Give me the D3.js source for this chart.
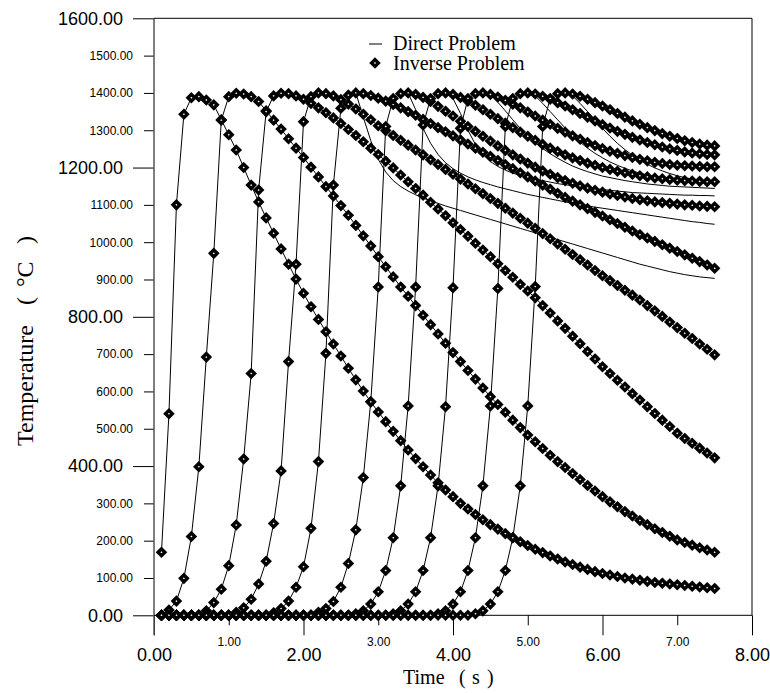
<!DOCTYPE html>
<html>
<head>
<meta charset="utf-8">
<script src="https://cdn.jsdelivr.net/npm/d3@7"></script>
<style>
  body { margin: 0; background: #fff; }
  svg { display: block; }
</style>
</head>
<body>
<svg id="chart" width="770" height="693"></svg>
<script>
// time grid of the measurements (s)
const times = [0.1,0.2,0.3,0.4,0.5,0.6,0.7,0.8,0.9,1.0,1.1,1.2,1.3,1.4,1.5,1.6,1.7,1.8,1.9,2.0,
  2.1,2.2,2.3,2.4,2.5,2.6,2.7,2.8,2.9,3.0,3.1,3.2,3.3,3.4,3.5,3.6,3.7,3.8,3.9,4.0,
  4.1,4.2,4.3,4.4,4.5,4.6,4.7,4.8,4.9,5.0,5.1,5.2,5.3,5.4,5.5,5.6,5.7,5.8,5.9,6.0,
  6.1,6.2,6.3,6.4,6.5,6.6,6.7,6.8,6.9,7.0,7.1,7.2,7.3,7.4,7.5];

// inverse problem, one array per measuring point (°C)
const inv1 = [169,540,1100,1343,1387,1390,1381,1368,1328,1288,1247,1200,1153,1108,1065,1024,982,941,901,863,
  827,793,760,727,695,662,631,601,572,545,519,493,468,443,420,398,376,355,336,318,
  300,285,270,256,243,231,219,208,197,187,177,168,159,151,143,136,129,123,117,112,
  108,104,100,97,94,91,88,86,84,82,80,78,76,74,72];
const inv2 = [0,14,38,99,211,398,692,970,1327,1390,1399,1397,1390,1377,1352,1327,1303,1277,1252,1227,
  1201,1175,1149,1124,1098,1072,1045,1017,990,961,934,907,880,855,830,804,779,754,729,704,
  680,656,633,609,586,565,544,523,503,483,465,447,429,412,396,380,364,348,333,318,
  304,291,278,266,254,243,232,222,212,202,195,188,181,175,169];
const inv3 = [0,0,0,0,0,0,12,34,70,133,242,419,648,1140,1350,1392,1399,1398,1392,1383,
  1372,1360,1347,1333,1318,1302,1286,1269,1252,1235,1217,1199,1180,1162,1144,1126,1107,1089,1071,1052,
  1034,1016,997,979,961,942,924,906,887,869,851,830,810,789,769,748,728,707,687,666,
  648,630,612,594,577,559,541,523,506,488,474,461,448,435,422];
const inv4 = [0,0,0,0,0,0,0,0,0,0,8,20,43,84,145,246,387,680,941,1323,
  1390,1400,1398,1392,1382,1370,1357,1343,1328,1312,1299,1286,1273,1260,1247,1234,1221,1208,1195,1182,
  1169,1156,1143,1130,1117,1104,1091,1078,1064,1051,1037,1023,1009,995,981,967,953,939,924,910,
  897,884,871,858,845,830,816,801,786,771,756,742,727,713,698];
const inv5 = [0,0,0,0,0,0,0,0,0,0,0,0,0,0,0,7,18,38,75,130,
  233,412,702,1153,1359,1394,1400,1398,1393,1386,1378,1369,1360,1350,1340,1329,1318,1307,1296,1285,
  1274,1263,1252,1241,1230,1219,1208,1197,1186,1175,1164,1153,1142,1131,1120,1110,1100,1090,1080,1070,
  1060,1050,1040,1030,1020,1011,1002,993,984,975,966,957,948,939,930];
const inv6 = [0,0,0,0,0,0,0,0,0,0,0,0,0,0,0,0,0,0,0,0,
  0,8,18,37,75,139,229,369,572,880,1310,1385,1398,1400,1396,1388,1377,1364,1351,1338,
  1324,1310,1297,1284,1271,1258,1246,1234,1223,1212,1201,1191,1182,1173,1165,1158,1151,1145,1139,1134,
  1129,1125,1121,1117,1114,1111,1108,1106,1104,1102,1100,1099,1097,1096,1095];
const inv7 = [0,0,0,0,0,0,0,0,0,0,0,0,0,0,0,0,0,0,0,0,
  0,0,0,0,0,0,4,12,30,63,120,208,347,561,880,1314,1385,1398,1400,1396,
  1388,1378,1367,1355,1343,1331,1319,1307,1295,1284,1273,1262,1252,1243,1234,1226,1219,1212,1206,1200,
  1195,1190,1186,1182,1178,1175,1172,1170,1168,1166,1165,1164,1163,1162,1162];
const inv8 = [0,0,0,0,0,0,0,0,0,0,0,0,0,0,0,0,0,0,0,0,
  0,0,0,0,0,0,0,0,0,0,0,4,12,30,63,120,208,347,559,878,
  1305,1385,1398,1400,1396,1389,1380,1370,1360,1349,1338,1327,1316,1305,1295,1285,1276,1267,1259,1251,
  1244,1238,1232,1227,1222,1218,1214,1211,1208,1206,1205,1204,1203,1202,1202];
const inv9 = [0,0,0,0,0,0,0,0,0,0,0,0,0,0,0,0,0,0,0,0,
  0,0,0,0,0,0,0,0,0,0,0,0,0,0,0,0,0,4,12,30,
  63,120,208,347,561,876,1310,1385,1398,1400,1397,1391,1383,1374,1365,1355,1345,1335,1325,1315,
  1306,1297,1289,1281,1274,1267,1261,1255,1250,1246,1242,1239,1237,1235,1234];
const inv10 = [0,0,0,0,0,0,0,0,0,0,0,0,0,0,0,0,0,0,0,0,
  0,0,0,0,0,0,0,0,0,0,0,0,0,0,0,0,0,0,0,0,
  0,0,4,12,30,63,120,208,347,561,881,1310,1385,1398,1400,1397,1391,1383,1374,1365,
  1355,1345,1335,1325,1316,1307,1299,1291,1284,1278,1272,1267,1263,1260,1258];

// direct problem: after the peak it drops faster; tail values up to 7.5 s
const dir5 = [1335,1272,1222,1188,1165,1149,1137,1127,1118,1111,1104,1097,1091,1085,1079,1073,1067,1061,1055,1049,
  1043,1037,1031,1025,1019,1013,1007,1001,995,989,983,977,971,965,959,953,947,941,936,931,
  926,921,917,913,910,907,905,903];
const dir6 = [1355,1305,1265,1235,1213,1197,1185,1175,1167,1160,1154,1148,1143,1138,1133,1128,1124,1120,1116,1112,
  1108,1104,1100,1097,1094,1091,1088,1085,1082,1079,1076,1073,1070,1067,1064,1061,1058,1055,1053,1050,1048];
const dir7 = [1385,1345,1300,1262,1235,1216,1203,1193,1185,1179,1174,1169,1165,1161,1157,1154,1151,1148,1145,1143,
  1141,1139,1137,1135,1133,1132,1131,1130,1129,1128,1127,1126,1126,1125,1125,1124];
const dir8 = [1395,1375,1352,1328,1305,1285,1267,1251,1237,1225,1214,1204,1196,1189,1183,1177,1173,1169,1165,1162,
  1159,1156,1154,1152,1150,1149,1148,1147,1146,1145,1144];
const dir9 = [1392,1372,1350,1328,1306,1286,1268,1252,1238,1226,1215,1206,1198,1191,1185,1180,1176,1172,1169,1166,
  1164,1162,1160,1159,1158];
const dir10 = [1392,1372,1350,1327,1305,1284,1265,1248,1233,1220,1209,1199,1191,1184,1178,1173,1169,1166,1163,1161];

const inverseSeries = [inv1, inv2, inv3, inv4, inv5, inv6, inv7, inv8, inv9, inv10];
const directTails = [null, null, null, null, dir5, dir6, dir7, dir8, dir9, dir10];

const xMajor = [0, 2, 4, 6, 8];
const xMinor = [1, 3, 5, 7];
const yMajor = [0, 400, 800, 1200, 1600];
const yMinor = [100, 200, 300, 500, 600, 700, 900, 1000, 1100, 1300, 1400, 1500];

const svg = d3.select("#chart");
const x = d3.scaleLinear().domain([0, 8]).range([154, 752]);
const y = d3.scaleLinear().domain([0, 1600]).range([615.3, 18.3]);
const fmt = d3.format(".2f");
const sans = "'Liberation Sans', Arial, sans-serif";
const serif = "'Liberation Serif', 'Times New Roman', serif";

// axes
function styleAxis(g, size) {
  g.select(".domain").remove();
  g.selectAll("line").attr("stroke", "#000");
  g.selectAll("text").attr("fill", "#000").style("font-family", sans).style("font-size", size + "px");
}
svg.append("g").attr("transform", "translate(154,0)")
  .call(d3.axisLeft(y).tickValues(yMajor).tickSize(21).tickPadding(10).tickFormat(fmt))
  .call(g => styleAxis(g, 18));
svg.append("g").attr("transform", "translate(154,0)")
  .call(d3.axisLeft(y).tickValues(yMinor).tickSize(10).tickPadding(11).tickFormat(fmt))
  .call(g => styleAxis(g, 12));
svg.append("g").attr("transform", "translate(0,615.3)")
  .call(d3.axisBottom(x).tickValues(xMajor).tickSize(20).tickPadding(13).tickFormat(fmt))
  .call(g => styleAxis(g, 18));
svg.append("g").attr("transform", "translate(0,615.3)")
  .call(d3.axisBottom(x).tickValues(xMinor).tickSize(10).tickPadding(12).tickFormat(fmt))
  .call(g => styleAxis(g, 12));

// frame
const frame = svg.append("g").attr("fill", "none");
frame.append("line").attr("x1", x(0)).attr("x2", x(0)).attr("y1", y(1600)).attr("y2", y(0) + 20)
  .attr("stroke", "#555").attr("stroke-width", 1.5);
frame.append("line").attr("x1", x(0)).attr("x2", x(8)).attr("y1", y(0)).attr("y2", y(0))
  .attr("stroke", "#000");
frame.append("line").attr("x1", x(0)).attr("x2", x(8)).attr("y1", y(1600)).attr("y2", y(1600))
  .attr("stroke", "#000");
frame.append("line").attr("x1", x(8)).attr("x2", x(8)).attr("y1", y(1600)).attr("y2", y(0))
  .attr("stroke", "#000");

// lines (direct problem)
const line = d3.line().x(d => x(d[0])).y(d => y(d[1]));
const plot = svg.append("g");
inverseSeries.forEach((vals, k) => {
  const tail = directTails[k];
  const split = tail ? times.length - tail.length : times.length;
  const pts = times.slice(0, split).map((t, i) => [t, vals[i]]);
  if (tail) tail.forEach((v, j) => pts.push([times[split + j], v]));
  plot.append("path").attr("d", line(pts))
    .attr("fill", "none").attr("stroke", "#000").attr("stroke-width", 1);
});

// markers (inverse problem)
const r = 3.4;
const diamond = `M0,${-r}L${r},0L0,${r}L${-r},0Z`;
inverseSeries.forEach(vals => {
  plot.append("g").selectAll("path")
    .data(times.map((t, i) => [t, vals[i]]))
    .join("path")
    .attr("d", diamond)
    .attr("transform", d => `translate(${x(d[0])},${y(d[1])})`)
    .attr("fill", "#fff").attr("stroke", "#000").attr("stroke-width", 3.4);
});

// axis titles
const xt = svg.append("text").attr("y", 684).style("font-family", serif).style("font-size", "20px");
xt.append("tspan").attr("x", 403).text("Time");
xt.append("tspan").attr("x", 459).text("(");
xt.append("tspan").attr("x", 472).text("s");
xt.append("tspan").attr("x", 487).text(")");

const yt = svg.append("text").attr("transform", "translate(33,0) rotate(-90)")
  .style("font-family", serif).style("font-size", "24px");
yt.append("tspan").attr("x", -446).text("Temperature");
yt.append("tspan").attr("x", -305).text("(");
yt.append("tspan").attr("x", -287).text("°C");
yt.append("tspan").attr("x", -244).text(")");

// legend
const leg = svg.append("g").style("font-family", serif).style("font-size", "20px");
leg.append("line").attr("x1", 369).attr("x2", 382).attr("y1", 44).attr("y2", 44).attr("stroke", "#000");
leg.append("text").attr("x", 393).attr("y", 50).text("Direct Problem");
leg.append("path").attr("d", diamond).attr("transform", "translate(375,63)")
  .attr("fill", "#fff").attr("stroke", "#000").attr("stroke-width", 3.4);
leg.append("text").attr("x", 393).attr("y", 70).text("Inverse Problem");
</script>
</body>
</html>
